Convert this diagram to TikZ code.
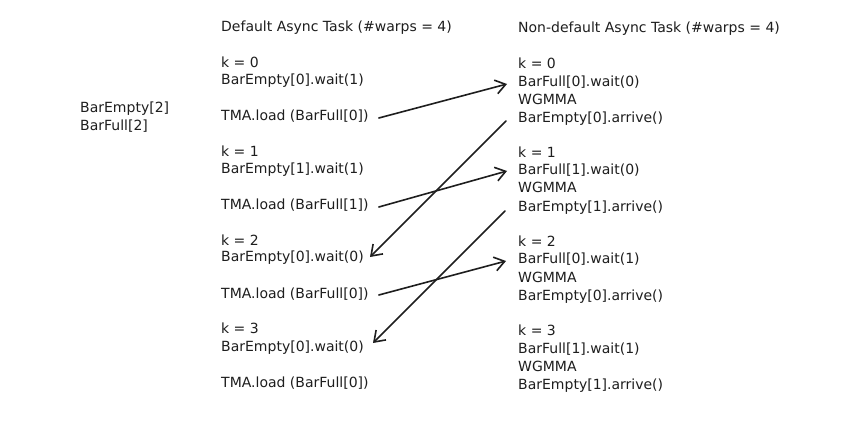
\documentclass[tikz,border=0pt]{standalone}
\usepackage{fontspec}
\setmainfont{DejaVu Sans}
\usetikzlibrary{arrows.meta}
\definecolor{ink}{HTML}{1E1E1E}
\begin{document}
\begin{tikzpicture}[x=1pt,y=-1pt,
  txt/.style={anchor=west,inner xsep=0pt,inner ysep=0pt,text height=10pt,text depth=3pt,
    font=\fontsize{14}{16}\selectfont,text=ink},
  flow/.style={-{Straight Barb[length=10pt,width=14pt,line width=1.6pt]},line width=1.6pt,draw=ink,line cap=round}]
\fill[white] (0,0) rectangle (864,423);
\useasboundingbox (0,0) rectangle (864,423);
% side labels
\node[txt] (be2) at (80,109) {BarEmpty[2]};
\node[txt] (bfl2) at (80,127) {BarFull[2]};
% left column
\node[txt] (tl) at (221,28) {Default Async Task (\#warps = 4)};
\node[txt] (k0) at (221,64) {k = 0};
\node[txt] (w0) at (221,81) {BarEmpty[0].wait(1)};
\node[txt] (tma0) at (221,117) {TMA.load (BarFull[0])};
\node[txt] (k1) at (221,153) {k = 1};
\node[txt] (w1) at (221,170) {BarEmpty[1].wait(1)};
\node[txt] (tma1) at (221,206) {TMA.load (BarFull[1])};
\node[txt] (k2) at (221,242) {k = 2};
\node[txt] (w2) at (221,258) {BarEmpty[0].wait(0)};
\node[txt] (tma2) at (221,295) {TMA.load (BarFull[0])};
\node[txt] (k3) at (221,330) {k = 3};
\node[txt] (w3) at (221,348) {BarEmpty[0].wait(0)};
\node[txt] (tma3) at (221,384) {TMA.load (BarFull[0])};
% right column
\node[txt] (tr) at (518,29) {Non-default Async Task (\#warps = 4)};
\node[txt] (rk0) at (518,65) {k = 0};
\node[txt] (bf0) at (518,83) {BarFull[0].wait(0)};
\node[txt] (mm0) at (518,101) {WGMMA};
\node[txt] (ea0) at (518,119) {BarEmpty[0].arrive()};
\node[txt] (rk1) at (518,154) {k = 1};
\node[txt] (bf1) at (518,171) {BarFull[1].wait(0)};
\node[txt] (mm1) at (518,189) {WGMMA};
\node[txt] (ea1) at (518,208) {BarEmpty[1].arrive()};
\node[txt] (rk2) at (518,243) {k = 2};
\node[txt] (bf2) at (518,260) {BarFull[0].wait(1)};
\node[txt] (mm2) at (518,279) {WGMMA};
\node[txt] (ea2) at (518,297) {BarEmpty[0].arrive()};
\node[txt] (rk3) at (518,332) {k = 3};
\node[txt] (bf3) at (518,350) {BarFull[1].wait(1)};
\node[txt] (mm3) at (518,368) {WGMMA};
\node[txt] (ea3) at (518,386) {BarEmpty[1].arrive()};
% arrows
\draw[flow] ([xshift=10pt,yshift=-1pt]tma0.east) -- ([xshift=-11pt,yshift=-1pt]bf0.west);
\draw[flow] ([xshift=10pt,yshift=-1pt]tma1.east) -- ([xshift=-11pt]bf1.west);
\draw[flow] ([xshift=-12pt,yshift=-2pt]ea0.west) -- ([xshift=6pt,yshift=1pt]w2.east);
\draw[flow] ([xshift=10pt]tma2.east) -- ([xshift=-12pt,yshift=-1pt]bf2.west);
\draw[flow] ([xshift=-13pt,yshift=-3pt]ea1.west) -- ([xshift=9pt,yshift=5pt]w3.east);
\end{tikzpicture}
\end{document}
